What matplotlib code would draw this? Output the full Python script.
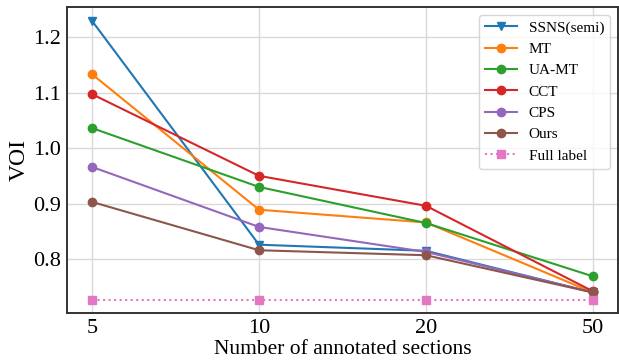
import matplotlib
matplotlib.use("Agg")
import matplotlib.pyplot as plt

plt.rcParams['font.family'] = ['Liberation Serif', 'DejaVu Serif']

x_labels = ["5", "10", "20", "50"]
ssns = [1.229, 0.826, 0.815, 0.740]
mt = [1.133, 0.889, 0.866, 0.740]
uamt = [1.036, 0.930, 0.865, 0.769]
cct = [1.097, 0.950, 0.896, 0.742]
cps = [0.966, 0.858, 0.813, 0.740]
ours = [0.903, 0.816, 0.807, 0.740]
full = [0.727, 0.727, 0.727, 0.727]

x = list(range(len(x_labels)))

fig = plt.figure(figsize=(6.19, 3.62), dpi=100)
ax = fig.add_axes([67/619, 1-313/362, (618-67)/619, (313-7)/362])

ax.plot(x, ssns, marker='v', color='#1f77b4', lw=1.5, ms=6, label='SSNS(semi)')
ax.plot(x, mt, marker='o', color='#ff7f0e', lw=1.5, ms=6, label='MT')
ax.plot(x, uamt, marker='o', color='#2ca02c', lw=1.5, ms=6, label='UA-MT')
ax.plot(x, cct, marker='o', color='#d62728', lw=1.5, ms=6, label='CCT')
ax.plot(x, cps, marker='o', color='#9467bd', lw=1.5, ms=6, label='CPS')
ax.plot(x, ours, marker='o', color='#8c564b', lw=1.5, ms=6, label='Ours')
ax.plot(x, full, marker='s', color='#e377c2', lw=1.5, ms=6, ls=':', label='Full label')

ax.set_xticks(x)
ax.set_xticklabels(x_labels)
ax.set_xlim(-0.15, 3.15)
ax.set_ylim(0.703, 1.254)
ax.set_yticks([0.8, 0.9, 1.0, 1.1, 1.2])
ax.grid(True, color='#d9d9d9', lw=1)
ax.set_axisbelow(True)
ax.tick_params(labelsize=16, length=0, pad=4)
for s in ax.spines.values():
    s.set_linewidth(1.4)
    s.set_color('#333333')
ax.set_xlabel('Number of annotated sections', fontsize=15.5, labelpad=2)
ax.set_ylabel('VOI', fontsize=17, labelpad=3)
ax.legend(loc='upper right', fontsize=11, handlelength=2.1, handletextpad=0.75,
          labelspacing=0.5, borderaxespad=0.5, framealpha=0.8)

fig.savefig('out.png', dpi=100)
